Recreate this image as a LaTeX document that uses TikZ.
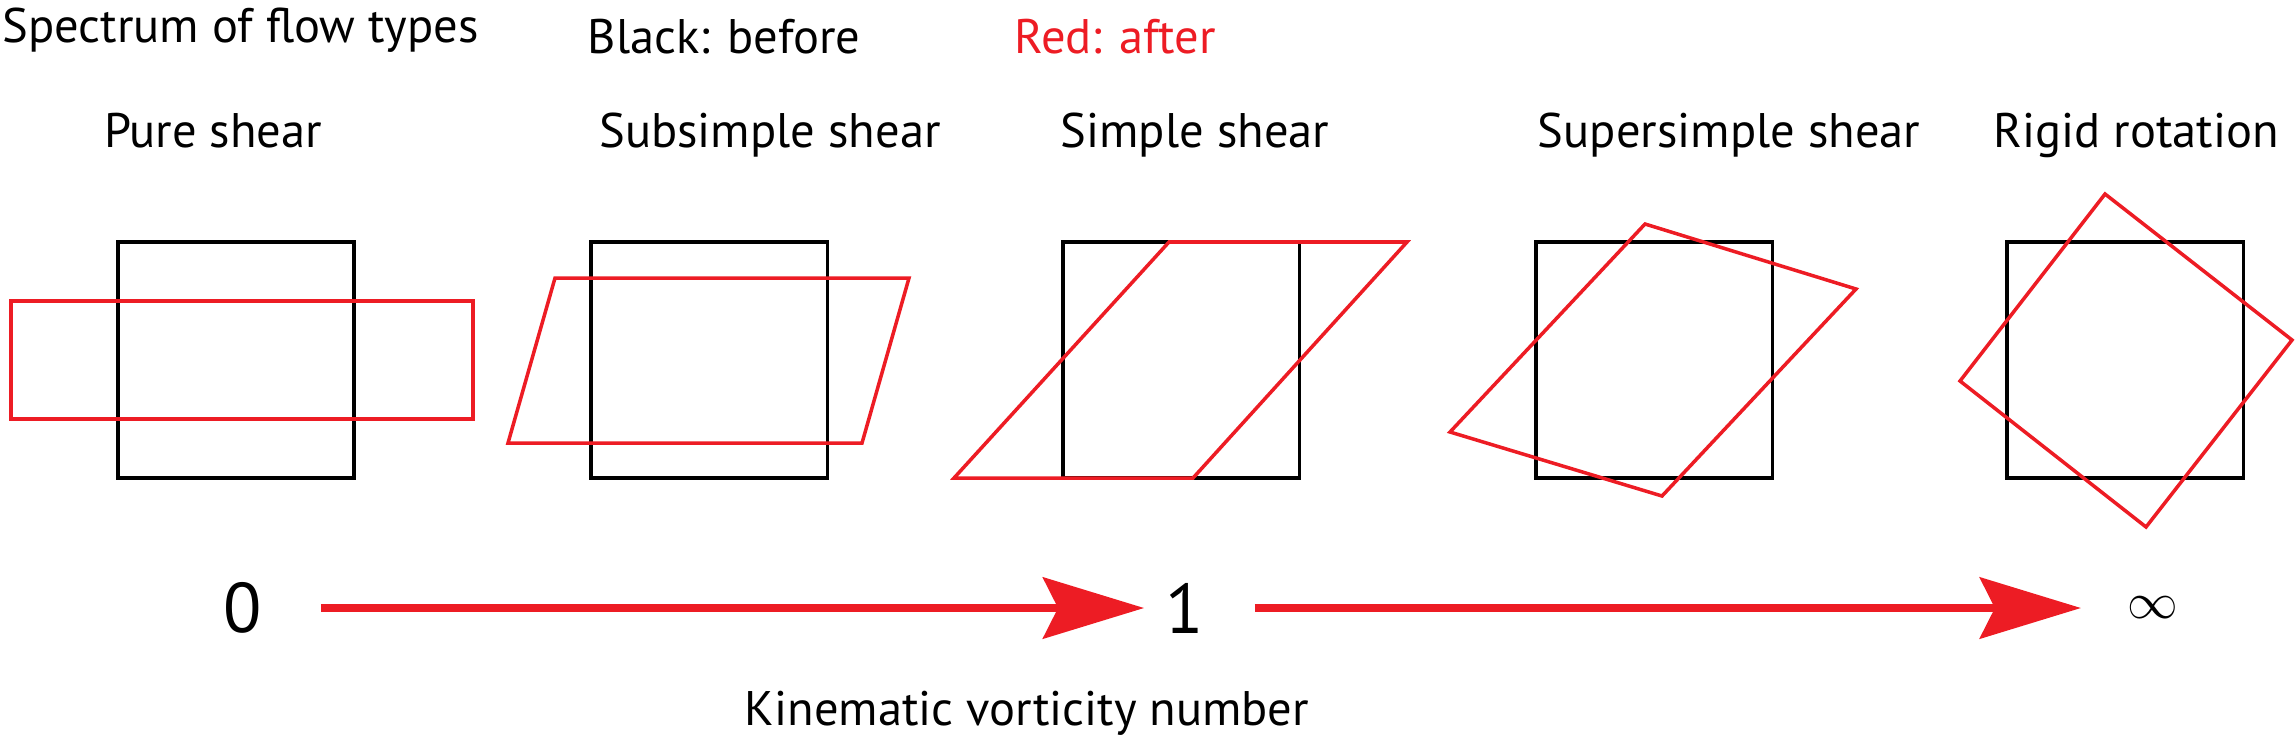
\documentclass[tikz,border=0pt]{standalone}
\usepackage{fontspec}
\setmainfont{PT Sans}
\usetikzlibrary{arrows.meta,positioning}
\definecolor{flowred}{RGB}{237,28,36}
\tikzset{
  before/.style={draw=black, line width=0.9pt, minimum width=2.36cm, minimum height=2.36cm, inner sep=0pt},
  after/.style={draw=flowred, line width=1pt, line join=miter},
  caption/.style={anchor=base, inner sep=0pt, font=\fontsize{13.8}{16}\selectfont},
  number/.style={inner sep=0pt, font=\fontsize{20}{24}\selectfont},
  flow/.style={-{Stealth[length=10.1mm, width=6.1mm, inset=1.5mm]}, line width=2.3pt, draw=flowred}
}

\begin{document}
\begin{tikzpicture}[x=0.01cm, y=-0.01cm]
  \useasboundingbox (0,0) rectangle (2295,739);

  \node[caption, anchor=base west] (title) at (2,42) {Spectrum of flow types};
  \node[caption] (black) at (724,53) {Black: before};
  \node[caption, text=flowred] (red) at (1115,53) {Red: after};

  \node[before] (pure) at (236,360) {};
  \node[before] (subsimple) at (709,360) {};
  \node[before] (simple) at (1181,360) {};
  \node[before] (supersimple) at (1654,360) {};
  \node[before] (rigid) at (2125,360) {};

  \node[caption] (purelbl) at (213,147) {Pure shear};
  \node[caption] (subsimplelbl) at (770,147) {Subsimple shear};
  \node[caption] (simplelbl) at (1195,147) {Simple shear};
  \node[caption] (supersimplelbl) at (1729,147) {Supersimple shear};
  \node[caption] (rigidlbl) at (2136,147) {Rigid rotation};

  \draw[after, shift={(pure.center)}] (-225,-59) rectangle (237,59);
  \draw[after, shift={(subsimple.center)}] (-154,-82) -- (200,-82) -- (153,83) -- (-201,83) -- cycle;
  \draw[after, shift={(simple.center)}] (-12,-118) -- (226,-118) -- (12,118) -- (-227,118) -- cycle;
  \draw[after, shift={(supersimple.center)}] (-9,-136) -- (202,-71) -- (8,136) -- (-204,72) -- cycle;
  \draw[after, shift={(rigid.center)}] (-20,-166) -- (167,-20) -- (21,167) -- (-165,21) -- cycle;

  \node[number] (v0) at (243,608) {0};
  \node[number] (v1) at (1185,608) {1};
  \node[number, font=\fontsize{15}{15}\selectfont] (vinf) at (2153,608) {$\infty$};
  \draw[flow, shorten <=0.58cm, shorten >=0.21cm] (v0) -- (v1);
  \draw[flow, shorten <=0.50cm, shorten >=0.46cm] (v1) -- (vinf);

  \node[caption] (axis) at (1027,725) {Kinematic vorticity number};
\end{tikzpicture}
\end{document}
